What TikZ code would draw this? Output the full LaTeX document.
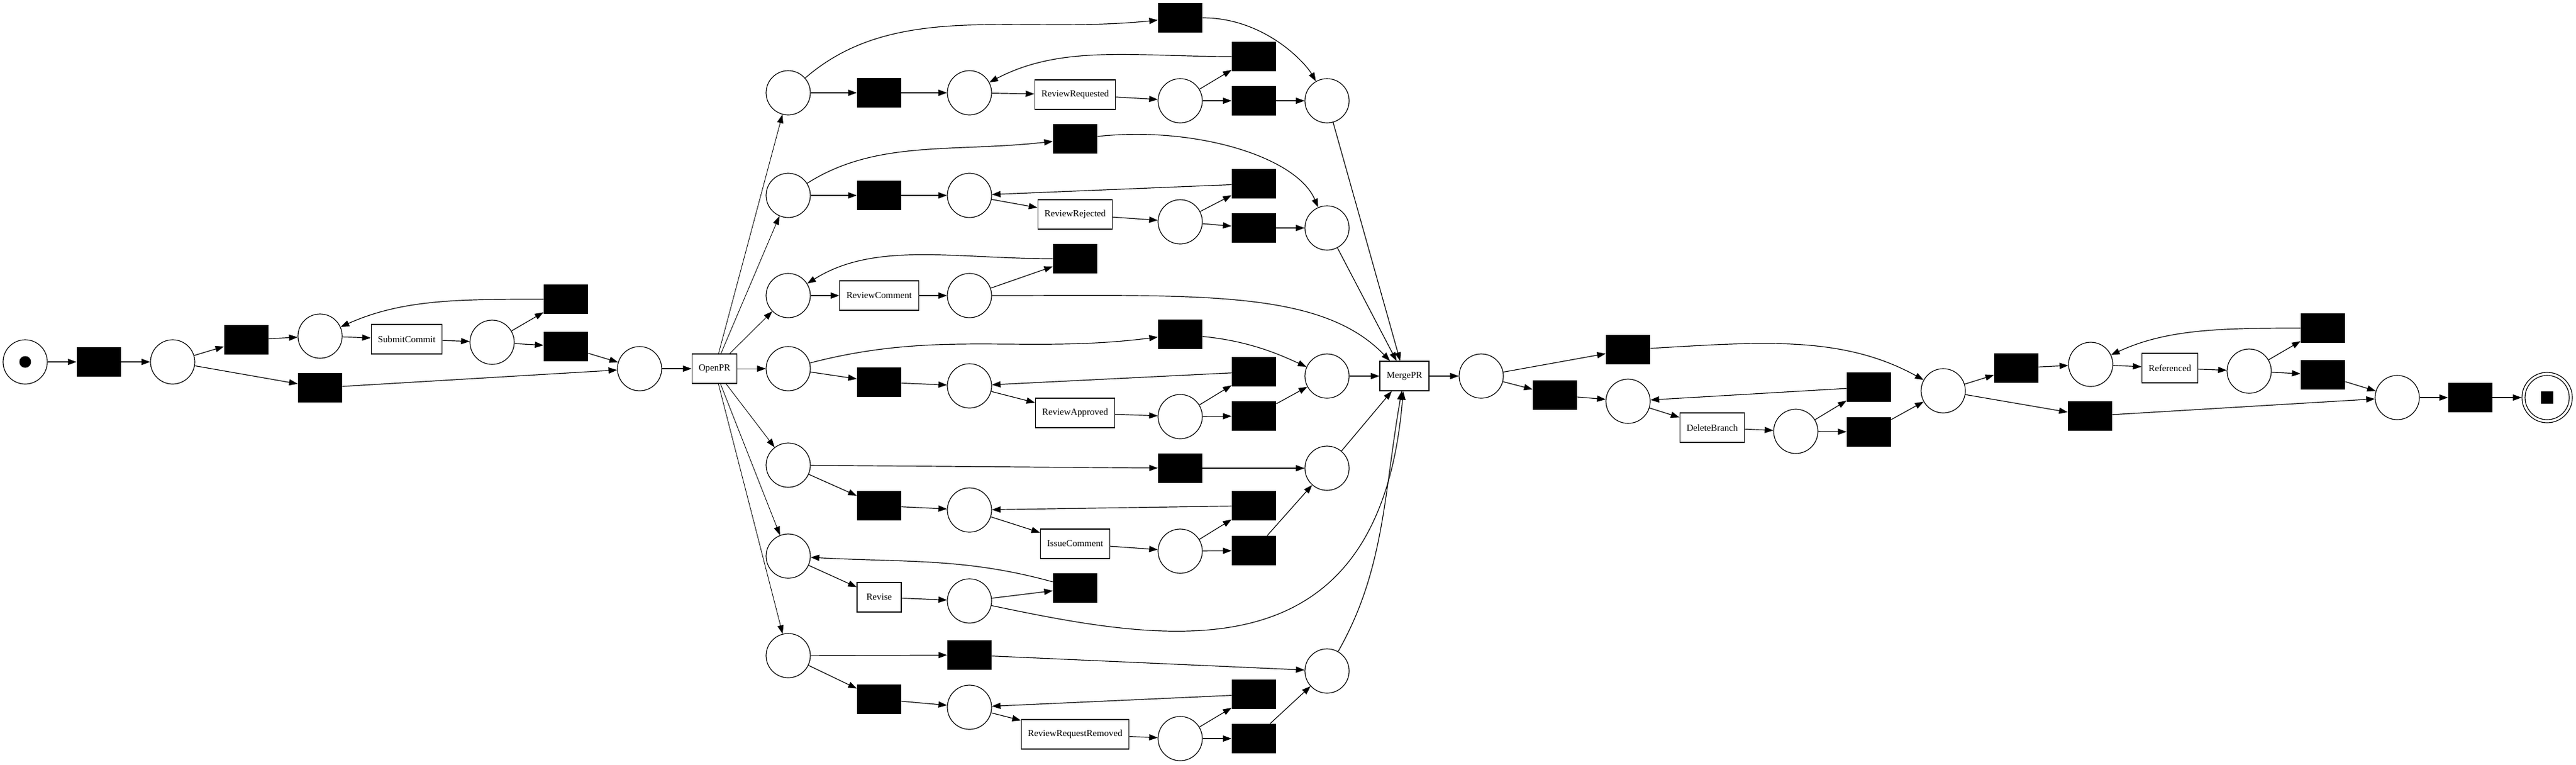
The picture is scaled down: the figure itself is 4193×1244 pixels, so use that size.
\documentclass[tikz,border=0pt]{standalone}
\usepackage{fontspec}
\setmainfont{Liberation Serif}
\usetikzlibrary{arrows.meta}

\begin{document}
\begin{tikzpicture}[x=0.5pt,y=0.5pt,yscale=-1,xscale=1,
    place/.style={draw,circle,minimum size=36pt,inner sep=0pt,line width=0.6pt},
    silent/.style={fill=black,minimum width=36pt,minimum height=24pt,inner sep=0pt},
    trans/.style={draw,rectangle,minimum width=36pt,minimum height=24pt,inner xsep=5.5pt,inner ysep=0pt,line width=0.6pt,font=\fontsize{7.6}{9}\selectfont},
    arc/.style={line width=0.6pt,-{Triangle[length=7pt,width=5pt]}}]
\useasboundingbox (0,0) rectangle (4193,1244);
% commit part
\node[place] (source) at (41,589) {};
\node[circle,fill=black,minimum size=9.5pt,inner sep=0pt] (token) at (source) {};
\node[silent] (s1) at (161,589) {};
\node[place] (p1) at (281,589) {};
\node[silent] (s2) at (401,553) {};
\node[place] (p2) at (521,547) {};
\node[trans] (submit) at (662,552) {SubmitCommit};
\node[place] (p3) at (801,557) {};
\node[silent] (s3) at (921,487) {};
\node[silent] (s4) at (921,564) {};
\node[silent] (s5) at (521,631) {};
\node[place] (p4) at (1041,600) {};
\node[trans] (open) at (1163,600) {OpenPR};
% review rows
\node[place] (a1) at (1283,151) {};
\node[silent] (sa1) at (1431,151) {};
\node[place] (a2) at (1578,151) {};
\node[trans] (rreq) at (1750,154) {ReviewRequested};
\node[place] (a3) at (1921,164) {};
\node[silent] (sa2) at (2041,92) {};
\node[silent] (sa3) at (2041,164) {};
\node[place] (a4) at (2160,164) {};
\node[silent] (sa4) at (1921,29) {};
\node[place] (b1) at (1283,318) {};
\node[silent] (sb1) at (1431,318) {};
\node[place] (b2) at (1578,318) {};
\node[trans] (rrej) at (1750,349) {ReviewRejected};
\node[place] (b3) at (1921,361) {};
\node[silent] (sb2) at (2041,299) {};
\node[silent] (sb3) at (2041,371) {};
\node[place] (b4) at (2160,371) {};
\node[silent] (sb4) at (1750,226) {};
\node[place] (c1) at (1283,481) {};
\node[trans] (rcom) at (1431,481) {ReviewComment};
\node[place] (c2) at (1578,481) {};
\node[silent] (sc1) at (1750,421) {};
\node[place] (d1) at (1283,600) {};
\node[silent] (sd1) at (1431,622) {};
\node[place] (d2) at (1578,628) {};
\node[trans] (rapp) at (1750,672) {ReviewApproved};
\node[place] (d3) at (1921,678) {};
\node[silent] (sd2) at (2041,605) {};
\node[silent] (sd3) at (2041,677) {};
\node[place] (d4) at (2160,612) {};
\node[silent] (sd4) at (1921,544) {};
\node[place] (e1) at (1283,757) {};
\node[silent] (se1) at (1431,823) {};
\node[place] (e2) at (1578,830) {};
\node[trans] (icom) at (1750,885) {IssueComment};
\node[place] (e3) at (1921,897) {};
\node[silent] (se2) at (2041,823) {};
\node[silent] (se3) at (2041,896) {};
\node[place] (e4) at (2160,762) {};
\node[silent] (se4) at (1921,762) {};
\node[place] (f1) at (1283,905) {};
\node[trans] (revise) at (1431,972) {Revise};
\node[place] (f2) at (1578,978) {};
\node[silent] (sf1) at (1750,957) {};
\node[place] (g1) at (1283,1067) {};
\node[silent] (sg1) at (1431,1138) {};
\node[place] (g2) at (1578,1151) {};
\node[trans] (rrrem) at (1750,1195) {ReviewRequestRemoved};
\node[place] (g3) at (1921,1202) {};
\node[silent] (sg2) at (2041,1130) {};
\node[silent] (sg3) at (2041,1202) {};
\node[place] (g4) at (2160,1092) {};
\node[silent] (sg4) at (1578,1066) {};
\node[trans] (merge) at (2286,612) {MergePR};
% after merge
\node[place] (m1) at (2411,612) {};
\node[silent] (sm1) at (2531,643) {};
\node[place] (m2) at (2650,653) {};
\node[trans] (del) at (2787,696) {DeleteBranch};
\node[place] (m3) at (2923,702) {};
\node[silent] (sm2) at (3042,630) {};
\node[silent] (sm3) at (3042,703) {};
\node[silent] (sm4) at (2650,569) {};
\node[place] (m4) at (3163,636) {};
\node[silent] (sr1) at (3282,599) {};
\node[place] (r1) at (3403,593) {};
\node[trans] (ref) at (3532,599) {Referenced};
\node[place] (r2) at (3661,604) {};
\node[silent] (sr2) at (3781,534) {};
\node[silent] (sr3) at (3781,610) {};
\node[silent] (sr4) at (3402,677) {};
\node[place] (r3) at (3902,647) {};
\node[silent] (sr5) at (4021,647) {};
\node[place,minimum size=41pt] (sink) at (4146,647) {};
\node[place] (sinkin) at (sink) {};
\node[fill=black,minimum size=10pt,inner sep=0pt] (sinktok) at (sink) {};
% arcs
\draw[arc] (source) -- (s1);
\draw[arc] (s1) -- (p1);
\draw[arc] (p1) -- (s2);
\draw[arc] (s2) -- (p2);
\draw[arc] (p2) -- (submit);
\draw[arc] (submit) -- (p3);
\draw[arc] (p3) -- (s3);
\draw[arc] (s3) to[out=180,in=-38] (p2);
\draw[arc] (p3) -- (s4);
\draw[arc] (s4) -- (p4);
\draw[arc] (p1) -- (s5);
\draw[arc] (s5) -- (p4);
\draw[arc] (p4) -- (open);
\foreach \p in {a1,b1,c1,d1,e1,f1,g1}
  \draw[arc,line width=0.45pt] (open) -- (\p);
\draw[arc] (a1) -- (sa1);
\draw[arc] (sa1) -- (a2);
\draw[arc] (a2) -- (rreq);
\draw[arc] (rreq) -- (a3);
\draw[arc] (a3) -- (sa2);
\draw[arc] (sa2) to[out=180,in=-40] (a2);
\draw[arc] (a3) -- (sa3);
\draw[arc] (sa3) -- (a4);
\draw[arc] (a1) to[out=-50,in=172] (sa4);
\draw[arc] (sa4) to[out=0,in=-105] (a4);
\draw[arc] (a4) -- (merge);
\draw[arc] (b1) -- (sb1);
\draw[arc] (sb1) -- (b2);
\draw[arc] (b2) -- (rrej);
\draw[arc] (rrej) -- (b3);
\draw[arc] (b3) -- (sb2);
\draw[arc] (sb2) -- (b2);
\draw[arc] (b3) -- (sb3);
\draw[arc] (sb3) -- (b4);
\draw[arc] (b1) to[out=-45,in=170] (sb4);
\draw[arc] (sb4) to[out=-10,in=-105] (b4);
\draw[arc] (b4) -- (merge);
\draw[arc] (c1) -- (rcom);
\draw[arc] (rcom) -- (c2);
\draw[arc] (c2) -- (sc1);
\draw[arc] (sc1) to[out=180,in=-45] (c1);
\draw[arc] (c2) .. controls +(372,0) and +(-136,-142) .. (merge);
\draw[arc] (d1) to[out=-20,in=170] (sd4);
\draw[arc] (sd4) to[out=15,in=-130] (d4);
\draw[arc] (d1) -- (sd1);
\draw[arc] (sd1) -- (d2);
\draw[arc] (d2) -- (rapp);
\draw[arc] (rapp) -- (d3);
\draw[arc] (d3) -- (sd2);
\draw[arc] (sd2) -- (d2);
\draw[arc] (d3) -- (sd3);
\draw[arc] (sd3) -- (d4);
\draw[arc] (d4) -- (merge);
\draw[arc] (e1) -- (se4);
\draw[arc] (se4) -- (e4);
\draw[arc] (e1) -- (se1);
\draw[arc] (se1) -- (e2);
\draw[arc] (e2) -- (icom);
\draw[arc] (icom) -- (e3);
\draw[arc] (e3) -- (se2);
\draw[arc] (se2) -- (e2);
\draw[arc] (e3) -- (se3);
\draw[arc] (se3) -- (e4);
\draw[arc] (e4) -- (merge);
\draw[arc] (f1) -- (revise);
\draw[arc] (revise) -- (f2);
\draw[arc] (f2) -- (sf1);
\draw[arc] (sf1) to[out=-155,in=5] (f1);
\draw[arc] (f2) .. controls +(320,67) and +(-41,498) .. (merge);
\draw[arc] (g1) -- (sg4);
\draw[arc] (sg4) -- (g4);
\draw[arc] (g1) -- (sg1);
\draw[arc] (sg1) -- (g2);
\draw[arc] (g2) -- (rrrem);
\draw[arc] (rrrem) -- (g3);
\draw[arc] (g3) -- (sg2);
\draw[arc] (sg2) -- (g2);
\draw[arc] (g3) -- (sg3);
\draw[arc] (sg3) -- (g4);
\draw[arc] (g4) to[out=-68,in=98] (merge);
\draw[arc] (merge) -- (m1);
\draw[arc] (m1) -- (sm4);
\draw[arc] (sm4) to[out=-5,in=-140] (m4);
\draw[arc] (m1) -- (sm1);
\draw[arc] (sm1) -- (m2);
\draw[arc] (m2) -- (del);
\draw[arc] (del) -- (m3);
\draw[arc] (m3) -- (sm2);
\draw[arc] (sm2) -- (m2);
\draw[arc] (m3) -- (sm3);
\draw[arc] (sm3) -- (m4);
\draw[arc] (m4) -- (sr1);
\draw[arc] (sr1) -- (r1);
\draw[arc] (r1) -- (ref);
\draw[arc] (ref) -- (r2);
\draw[arc] (r2) -- (sr2);
\draw[arc] (sr2) to[out=180,in=-40] (r1);
\draw[arc] (r2) -- (sr3);
\draw[arc] (sr3) -- (r3);
\draw[arc] (m4) -- (sr4);
\draw[arc] (sr4) -- (r3);
\draw[arc] (r3) -- (sr5);
\draw[arc] (sr5) -- (sink);
\end{tikzpicture}
\end{document}
